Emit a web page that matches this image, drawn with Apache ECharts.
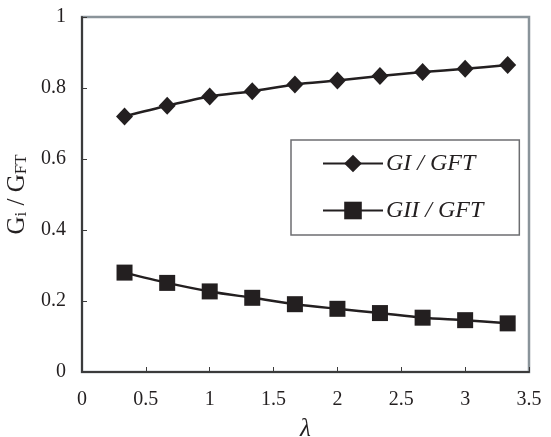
<!DOCTYPE html>
<html>
<head>
<meta charset="utf-8">
<script src="https://cdn.jsdelivr.net/npm/echarts@6/dist/echarts.min.js"></script>
<style>
html,body{margin:0;padding:0;background:#fff;}
#chart{width:551px;height:437px;}
</style>
</head>
<body>
<div id="chart"></div>
<script>
// ---- data ----
var lambdaValues = [0.333, 0.667, 1, 1.333, 1.667, 2, 2.333, 2.667, 3, 3.333];
var giValues  = [0.720, 0.750, 0.776, 0.791, 0.810, 0.821, 0.834, 0.845, 0.854, 0.865];
var giiValues = [0.280, 0.251, 0.227, 0.209, 0.191, 0.178, 0.166, 0.153, 0.146, 0.137];
var seriesNames = ['GI / GFT', 'GII / GFT'];
var xTicks = { min: 0, max: 3.5, interval: 0.5 };
var yTicks = { min: 0, max: 1, interval: 0.2 };

function pairs(xs, ys) { return xs.map(function (x, i) { return [x, ys[i]]; }); }

var ink = '#231f20';
var font = '"Liberation Serif", "Times New Roman", serif';

var chart = echarts.init(document.getElementById('chart'), null, { renderer: 'canvas' });
chart.setOption({
  animation: false,
  backgroundColor: '#ffffff',
  grid: {
    left: 82, right: 22, top: 17, bottom: 65,
    outerBoundsMode: 'none', containLabel: false,
    show: true, borderColor: '#8a949a', borderWidth: 2.5, backgroundColor: 'transparent'
  },
  legend: {
    left: 291, top: 140,
    orient: 'vertical',
    padding: [11, 36, 12, 31],
    itemGap: 22,
    itemWidth: 60, itemHeight: 22,
    borderColor: '#6d6e71', borderWidth: 1.5,
    backgroundColor: '#fff',
    textStyle: { fontFamily: font, fontStyle: 'italic', fontSize: 24, color: ink, lineHeight: 25, padding: [0,0,0,-2] },
    data: seriesNames
  },
  xAxis: {
    type: 'value',
    min: xTicks.min, max: xTicks.max, interval: xTicks.interval,
    name: 'λ', nameLocation: 'middle', nameGap: 45,
    nameTextStyle: { fontFamily: font, fontStyle: 'italic', fontSize: 25, color: ink },
    axisLine: { show: true, lineStyle: { color: '#3b3b3b', width: 2 } },
    axisTick: { show: true, inside: true, length: 5, lineStyle: { color: '#3b3b3b', width: 1 } },
    axisLabel: { fontFamily: font, fontSize: 20, color: ink, margin: 18 },
    splitLine: { show: false }
  },
  yAxis: {
    type: 'value',
    min: yTicks.min, max: yTicks.max, interval: yTicks.interval,
    name: '{g|G}{s|i}{g| / G}{s|FT}', nameLocation: 'middle', nameGap: 46,
    nameTextStyle: {
      fontFamily: font, fontSize: 24, color: ink,
      rich: {
        g: { fontFamily: font, fontSize: 25, color: ink, verticalAlign: 'bottom', lineHeight: 30 },
        s: { fontFamily: font, fontSize: 17, color: ink, verticalAlign: 'bottom', lineHeight: 22 }
      }
    },
    axisLine: { show: true, lineStyle: { color: '#3b3b3b', width: 2 } },
    axisTick: { show: true, inside: true, length: 5, lineStyle: { color: '#3b3b3b', width: 1 } },
    axisLabel: { fontFamily: font, fontSize: 20, color: ink, margin: 16 },
    splitLine: { show: false }
  },
  series: [
    {
      name: seriesNames[0], type: 'line', smooth: 0.3,
      data: pairs(lambdaValues, giValues),
      symbol: 'diamond', symbolSize: [17, 18],
      lineStyle: { color: ink, width: 2.5 },
      itemStyle: { color: ink, borderWidth: 0 }
    },
    {
      name: seriesNames[1], type: 'line', smooth: 0.3,
      data: pairs(lambdaValues, giiValues),
      symbol: 'rect', symbolSize: 16,
      lineStyle: { color: ink, width: 2.5 },
      itemStyle: { color: ink, borderWidth: 0 }
    }
  ]
});
</script>
</body>
</html>
